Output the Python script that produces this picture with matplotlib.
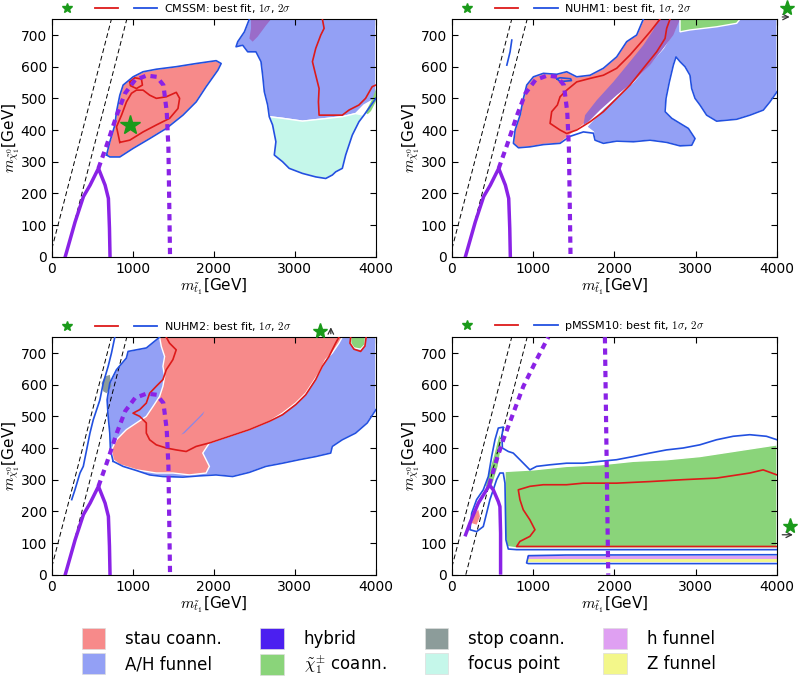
import matplotlib
matplotlib.use("Agg")
import matplotlib.pyplot as plt
from matplotlib.patches import Patch
from matplotlib.lines import Line2D

plt.rcParams['mathtext.fontset'] = 'cm'
plt.rcParams['font.family'] = ['DejaVu Sans']

# colours of the regions
col_stau = '#f78a8a'
col_ah = '#93a0f5'
col_hybrid = '#4b1ff0'
col_chi = '#8ad47a'
col_stop = '#8c9c9a'
col_focus = '#c5f7ea'
col_hfun = '#dfa0f2'
col_zfun = '#f3f78a'
col_mix = '#9a6cc9'
red = '#dd1a1a'
blue = '#2250e0'
purple = '#8a22e6'

models = ['CMSSM', 'NUHM1', 'NUHM2', 'pMSSM10']

# kinematic boundary lines (m_stop vs m_chi)
diag1_x = [0, 735]
diag1_y = [25, 750]
diag2_x = [170, 925]
diag2_y = [0, 750]

# LHC exclusion curves (CMSSM/NUHM1/NUHM2)
excl_x = [165, 287, 390, 472, 575, 657, 698, 711, 718]
excl_y = [0, 110, 190, 226, 279, 226, 184, 90, 0]
proj_x = [575, 678, 801, 904, 1027, 1171, 1295, 1377, 1418, 1439, 1459]
proj_y = [279, 353, 447, 516, 558, 572, 568, 542, 458, 342, 0]

# pMSSM10 exclusion curves
p10_excl_x = [160, 221, 324, 426, 459, 508, 570, 590, 598, 598]
p10_excl_y = [121, 163, 226, 268, 284, 268, 231, 215, 131, 0]
p10_proj1_x = [459, 549, 631, 754, 877, 1041, 1185]
p10_proj1_y = [284, 363, 426, 510, 594, 679, 750]
p10_proj2_x = [1882, 1923]
p10_proj2_y = [750, 0]

# ---------------- CMSSM ----------------
cm_stau_x = [675, 716, 778, 798, 839, 880, 1003, 1126, 1290, 1536, 1782, 2028, 2090, 2049, 1905, 1782, 1618, 1413, 1208, 1003, 839, 716]
cm_stau_y = [321, 363, 416, 458, 510, 542, 568, 584, 592, 600, 610, 619, 610, 589, 537, 489, 447, 405, 373, 342, 315, 315]
cm_red_x = [839, 798, 860, 921, 983, 1044, 1126, 1208, 1290, 1413, 1536, 1577, 1557, 1454, 1290, 1126, 962, 839]
cm_red_y = [361, 410, 447, 489, 516, 526, 526, 510, 500, 505, 519, 500, 468, 437, 416, 394, 368, 361]
cm_red2_x = [962, 1024, 1106, 1118, 1044, 970, 962]
cm_red2_y = [552, 565, 561, 542, 531, 540, 552]
cm_ah_x = [2438, 2377, 2295, 2274, 2356, 2418, 2520, 2582, 2602, 2623, 2664, 2684, 2848, 3094, 3340, 3586, 3750, 3853, 4000, 4000]
cm_ah_y = [750, 710, 679, 663, 668, 647, 647, 616, 574, 521, 479, 442, 437, 428, 435, 442, 452, 479, 500, 750]
cm_mix_x = [2459, 2706, 2645, 2602, 2541, 2479, 2438, 2459]
cm_mix_y = [750, 750, 731, 716, 695, 679, 689, 721]
cm_focus_x = [2684, 2725, 2766, 2746, 2848, 2930, 3094, 3258, 3381, 3463, 3504, 3586, 3627, 3709, 3791, 3853, 3750, 3586, 3340, 3094, 2848]
cm_focus_y = [442, 416, 363, 321, 300, 279, 263, 252, 247, 258, 268, 279, 321, 384, 426, 447, 452, 442, 435, 428, 437]
cm_chi_x = [3870, 3960, 4000, 4000, 3940, 3900]
cm_chi_y = [455, 500, 530, 490, 460, 450]
cm_red3_x = [3340, 3361, 3320, 3258, 3217, 3258, 3299, 3291, 3299, 3463, 3586, 3668, 3791, 3873, 3955, 4000]
cm_red3_y = [750, 721, 700, 658, 616, 573, 531, 489, 447, 447, 447, 463, 479, 500, 537, 542]
cm_blue2_x = [2438, 2377, 2295, 2274, 2356, 2418, 2520, 2582, 2602, 2623, 2664, 2684, 2725, 2766, 2746, 2848, 2930, 3094, 3258, 3381, 3463, 3504, 3586, 3627, 3709, 3791, 3853, 4000]
cm_blue2_y = [750, 710, 679, 663, 668, 647, 647, 616, 574, 521, 479, 442, 416, 363, 321, 300, 279, 263, 252, 247, 258, 268, 279, 321, 384, 426, 447, 500]
cm_best = (962, 416)

# ---------------- NUHM1 ----------------
n1_stau_x = [2355, 2273, 2150, 2027, 1863, 1699, 1535, 1412, 1289, 1125, 1002, 920, 879, 838, 777, 756, 818, 961, 1125, 1330, 1453, 1617, 1740, 1904, 2109, 2273, 2437, 2601, 2642]
n1_stau_y = [750, 700, 679, 631, 595, 573, 568, 584, 576, 579, 568, 542, 500, 447, 400, 358, 344, 347, 354, 358, 384, 416, 458, 510, 573, 626, 679, 731, 750]
n1_mix_x = [2540, 2806, 2724, 2601, 2437, 2232, 2027, 1822, 1679, 1617, 1638, 1781, 1986, 2191, 2355, 2478]
n1_mix_y = [750, 750, 700, 658, 605, 552, 510, 463, 426, 416, 447, 494, 552, 616, 668, 716]
n1_ah_x = [2765, 4000, 4000, 3913, 3831, 3667, 3503, 3257, 3134, 3052, 2991, 2950, 2929, 2868, 2806, 2757, 2724, 2675, 2634, 2622, 2704, 2806, 2909, 2991, 2950, 2806, 2642, 2437, 2232, 2027, 1863, 1760, 1740, 1658, 1863, 2232, 2601, 2745]
n1_ah_y = [750, 750, 521, 489, 463, 447, 434, 428, 447, 479, 500, 531, 573, 600, 616, 631, 605, 552, 500, 458, 437, 421, 405, 373, 352, 350, 361, 368, 363, 365, 358, 368, 394, 410, 468, 552, 658, 721]
n1_chi_x = [2806, 3544, 3503, 3257, 3093, 2929, 2806]
n1_chi_y = [750, 750, 737, 726, 721, 716, 710]
n1_red_x = [2560, 2437, 2314, 2191, 2027, 1863, 1699, 1535, 1412, 1330, 1297, 1227, 1207, 1330, 1412, 1535, 1699, 1863, 2027, 2191, 2355, 2519, 2622, 2642, 2683]
n1_red_y = [750, 710, 673, 637, 595, 573, 563, 552, 526, 505, 479, 458, 421, 400, 389, 400, 426, 458, 500, 542, 595, 647, 689, 721, 750]
n1_blue_x = [2355, 2273, 2150, 2027, 1863, 1699, 1535, 1412, 1289, 1125, 1002, 920, 879, 838, 777, 756, 818, 961, 1125, 1330, 1453, 1617, 1740, 1760, 1863, 2027, 2232, 2437, 2642, 2806, 2950, 2991, 2909, 2806, 2704, 2622, 2634, 2675, 2724, 2757, 2806, 2868, 2929, 2950, 2991, 3052, 3134, 3257, 3503, 3667, 3831, 3913, 4000]
n1_blue_y = [750, 700, 679, 631, 595, 573, 568, 584, 576, 579, 568, 542, 500, 447, 400, 358, 344, 347, 354, 358, 380, 394, 390, 368, 358, 365, 363, 368, 361, 350, 352, 373, 405, 421, 437, 458, 500, 552, 605, 631, 616, 600, 573, 531, 500, 479, 447, 428, 434, 447, 463, 489, 521]
n1_blue2_x = [736, 715, 695, 675]
n1_blue2_y = [684, 647, 626, 605]
n1_blue3_x = [1290, 1330, 1460, 1470, 1330, 1290]
n1_blue3_y = [562, 565, 562, 556, 553, 562]

# ---------------- NUHM2 ----------------
n2_ah_x = [941, 1167, 1330, 3585, 4000, 4000, 3893, 3749, 3585, 3462, 3442, 3257, 3052, 2847, 2642, 2437, 2232, 2027, 1822, 1617, 1371, 1207, 1043, 879, 756, 723, 715, 695, 682, 715, 797, 920]
n2_ah_y = [705, 716, 750, 750, 750, 521, 479, 447, 426, 405, 384, 373, 363, 352, 342, 323, 310, 315, 312, 308, 310, 315, 329, 342, 358, 394, 447, 500, 552, 605, 647, 684]
n2_stau_x = [1330, 3585, 3544, 3462, 3380, 3298, 3216, 3134, 3011, 2847, 2683, 2437, 2191, 1945, 1863, 1945, 1904, 1699, 1494, 1289, 1043, 838, 756, 736, 797, 920, 1043, 1166, 1248, 1330, 1371, 1392, 1371, 1392, 1351]
n2_stau_y = [750, 750, 731, 700, 679, 637, 605, 573, 542, 510, 484, 458, 437, 416, 384, 342, 321, 315, 321, 321, 331, 347, 363, 394, 426, 458, 479, 500, 531, 563, 595, 626, 658, 689, 721]
n2_chi_x = [3689, 3873, 3865, 3812, 3730, 3689]
n2_chi_y = [750, 750, 726, 712, 716, 731]
n2_mix_x = [1597, 1658, 1781, 1884, 1863, 1740, 1638]
n2_mix_y = [442, 458, 489, 516, 505, 473, 447]
n2_stop_x = [614, 655, 716, 736, 675, 634]
n2_stop_y = [605, 626, 631, 595, 573, 579]
n2_red_x = [1412, 1453, 1535, 1494, 1412, 1371, 1289, 1207, 1166, 1084, 1002, 1084, 1166, 1166, 1207, 1289, 1412, 1535, 1658, 1781, 1945, 2191, 2437, 2683, 2847, 3011, 3134, 3257, 3339, 3421, 3503, 3544]
n2_red_y = [750, 731, 710, 679, 647, 616, 595, 573, 542, 521, 510, 500, 479, 447, 426, 410, 400, 394, 389, 405, 416, 437, 458, 484, 505, 537, 568, 616, 658, 689, 731, 750]
n2_red2_x = [3689, 3680, 3730, 3812, 3865, 3880]
n2_red2_y = [750, 731, 712, 705, 722, 750]
n2_blue_out_x = [756, 879, 1043, 1207, 1371, 1617, 1822, 2027, 2232, 2437, 2642, 2847, 3052, 3257, 3442, 3462, 3585, 3749, 3893, 4000]
n2_blue_out_y = [358, 342, 329, 315, 310, 308, 312, 315, 310, 323, 342, 352, 363, 373, 384, 405, 426, 447, 479, 521]
n2_blue_left_x = [245, 285, 347, 388, 429, 470, 511, 593, 634, 695, 736, 777]
n2_blue_left_y = [237, 268, 321, 342, 394, 447, 489, 552, 605, 658, 700, 750]
n2_blue_top_x = [756, 723, 715, 695, 682, 715, 797, 920, 941, 1167, 1330]
n2_blue_top_y = [358, 394, 447, 500, 552, 605, 647, 684, 705, 716, 750]

# ---------------- pMSSM10 ----------------
p10_chi_x = [652, 1000, 1410, 1820, 2230, 2640, 3050, 3460, 3870, 4000, 4000, 795, 672, 652]
p10_chi_y = [326, 331, 342, 347, 358, 363, 373, 389, 405, 410, 84, 84, 89, 131]
p10_chi2_x = [406, 447, 508, 570, 599, 611, 570, 508, 467]
p10_chi2_y = [279, 321, 373, 437, 447, 405, 342, 289, 268]
p10_stau_x = [242, 283, 324, 344, 303]
p10_stau_y = [163, 195, 205, 184, 158]
p10_hfun_x = [920, 4000, 4000, 920]
p10_hfun_y = [50, 50, 59, 59]
p10_zfun_x = [920, 4000, 4000, 920]
p10_zfun_y = [40, 40, 50, 50]
p10_blue_x = [4000, 3870, 3665, 3460, 3255, 3050, 2845, 2640, 2435, 2230, 2025, 1820, 1615, 1410, 1205, 1041, 959, 836, 754, 693, 620, 615, 631, 570, 529, 488, 447, 385, 303, 242, 221, 303, 385, 426, 467, 508, 549, 590, 631, 652, 664, 693, 795, 4000]
p10_blue_y = [426, 437, 442, 437, 426, 410, 400, 394, 384, 373, 363, 358, 352, 352, 347, 342, 331, 363, 384, 389, 400, 440, 466, 463, 426, 373, 310, 268, 237, 194, 142, 136, 152, 194, 237, 268, 300, 321, 321, 289, 110, 81, 79, 79]
p10_blue2_x = [4000, 1400, 940, 918, 940, 4000]
p10_blue2_y = [63, 62, 60, 37, 35, 35]
p10_red_x = [4000, 3829, 3665, 3255, 2845, 2435, 2025, 1615, 1410, 1123, 959, 816, 836, 877, 959, 1021, 959, 836, 795, 4000]
p10_red_y = [315, 331, 321, 305, 300, 294, 289, 289, 284, 284, 279, 268, 237, 205, 173, 142, 121, 105, 89, 89]

fig = plt.figure(figsize=(7.98, 6.78), dpi=100)
ax_pos = [[0.065, 0.6214, 0.406, 0.3503], [0.5664, 0.6214, 0.4073, 0.3503],
          [0.065, 0.1524, 0.406, 0.3503], [0.5664, 0.1524, 0.4073, 0.3503]]
axes = [fig.add_axes(p) for p in ax_pos]


def region(ax, x, y, c, z=1, edge='white'):
    ax.fill(x, y, color=c, ec=edge, lw=1.0, zorder=z)


def common(ax, name, p10=False):
    ax.set_xlim(0, 4000)
    ax.set_ylim(0, 750)
    ax.set_xticks([0, 1000, 2000, 3000, 4000])
    ax.set_yticks([0, 100, 200, 300, 400, 500, 600, 700])
    ax.tick_params(direction='in', top=True, right=True, labelsize=10, length=4)
    ax.set_xlabel(r'$m_{\tilde{t}_1}$[GeV]', fontsize=11, labelpad=1)
    ax.set_ylabel(r'$m_{\tilde{\chi}^0_1}$[GeV]', fontsize=11, labelpad=-1)
    l1, = ax.plot(diag1_x, diag1_y, color='k', lw=0.7, zorder=2)
    l1.set_dashes((5, 3))
    l2, = ax.plot(diag2_x, diag2_y, color='k', lw=0.7, zorder=2)
    l2.set_dashes((5, 3))
    if p10:
        ax.plot(p10_excl_x, p10_excl_y, color=purple, lw=2.5, zorder=5, solid_capstyle='butt')
        for xx, yy in [(p10_proj1_x, p10_proj1_y), (p10_proj2_x, p10_proj2_y)]:
            d, = ax.plot(xx, yy, color=purple, lw=3, zorder=5)
            d.set_dashes((1.5, 1.2))
    else:
        ax.plot(excl_x, excl_y, color=purple, lw=2.5, zorder=5)
        d, = ax.plot(proj_x, proj_y, color=purple, lw=3, zorder=5)
        d.set_dashes((1.5, 1.2))
    hands = [Line2D([], [], ls='none', marker='*', color='#1a9a1a', ms=7),
             Line2D([], [], color=red, lw=1.3),
             Line2D([], [], color=blue, lw=1.3)]
    ax.legend(hands, ['', '', name + r': best fit, $1\sigma$, $2\sigma$'], ncol=3,
              frameon=False, loc='lower left', bbox_to_anchor=(0.0, 1.005),
              fontsize=8, handlelength=2.1, handletextpad=0.55, columnspacing=0.9,
              borderpad=0.3, borderaxespad=0.0)


# CMSSM
ax = axes[0]
region(ax, cm_stau_x, cm_stau_y, col_stau)
region(ax, cm_ah_x, cm_ah_y, col_ah)
region(ax, cm_mix_x, cm_mix_y, col_mix, z=1.5, edge='none')
region(ax, cm_focus_x, cm_focus_y, col_focus)
region(ax, cm_chi_x, cm_chi_y, col_chi, z=1.5, edge='none')
ax.plot(cm_stau_x + cm_stau_x[:1], cm_stau_y + cm_stau_y[:1], color=blue, lw=1.2, zorder=3)
ax.plot(cm_blue2_x, cm_blue2_y, color=blue, lw=1.2, zorder=3)
ax.plot(cm_red_x, cm_red_y, color=red, lw=1.2, zorder=3)
ax.plot(cm_red2_x, cm_red2_y, color=red, lw=1.2, zorder=3)
ax.plot(cm_red3_x, cm_red3_y, color=red, lw=1.2, zorder=3)
ax.plot(*cm_best, ls='none', marker='*', color='#1a9a1a', ms=15, zorder=6)
common(ax, models[0])

# NUHM1
ax = axes[1]
region(ax, n1_ah_x, n1_ah_y, col_ah)
region(ax, n1_stau_x, n1_stau_y, col_stau)
region(ax, n1_mix_x, n1_mix_y, col_mix, z=1.5, edge='none')
region(ax, n1_chi_x, n1_chi_y, col_chi, z=1.5)
ax.plot(n1_blue_x, n1_blue_y, color=blue, lw=1.2, zorder=3)
ax.plot(n1_blue2_x, n1_blue2_y, color=blue, lw=1.2, zorder=3)
ax.plot(n1_blue3_x, n1_blue3_y, color=blue, lw=1.2, zorder=3)
ax.plot(n1_red_x, n1_red_y, color=red, lw=1.2, zorder=3)
ax.plot(4119, 784, ls='none', marker='*', color='#1a9a1a', ms=11, zorder=6, clip_on=False)
ax.annotate('', xy=(4190, 757), xytext=(4030, 757), annotation_clip=False,
            arrowprops=dict(arrowstyle='->', color='#333333', lw=0.9))
common(ax, models[1])

# NUHM2
ax = axes[2]
region(ax, n2_ah_x, n2_ah_y, col_ah)
region(ax, n2_stau_x, n2_stau_y, col_stau)
region(ax, n2_chi_x, n2_chi_y, col_chi, z=1.5)
region(ax, n2_mix_x, n2_mix_y, '#8a86e6', z=1.5, edge='none')
region(ax, n2_stop_x, n2_stop_y, col_stop, z=1.5, edge='none')
ax.plot(n2_blue_out_x, n2_blue_out_y, color=blue, lw=1.2, zorder=3)
ax.plot(n2_blue_left_x, n2_blue_left_y, color=blue, lw=1.2, zorder=3)
ax.plot(n2_blue_top_x, n2_blue_top_y, color=blue, lw=1.2, zorder=3)
ax.plot(n2_red_x, n2_red_y, color=red, lw=1.2, zorder=3)
ax.plot(n2_red2_x, n2_red2_y, color=red, lw=1.2, zorder=3)
ax.plot(3308, 770, ls='none', marker='*', color='#1a9a1a', ms=11, zorder=6, clip_on=False)
ax.annotate('', xy=(3444, 790), xytext=(3444, 752), annotation_clip=False,
            arrowprops=dict(arrowstyle='->', color='#333333', lw=0.9))
common(ax, models[2])

# pMSSM10
ax = axes[3]
region(ax, p10_chi_x, p10_chi_y, col_chi)
region(ax, p10_chi2_x, p10_chi2_y, col_chi)
region(ax, p10_stau_x, p10_stau_y, col_stau, z=1.5, edge='none')
region(ax, p10_hfun_x, p10_hfun_y, col_hfun, z=1.5, edge='none')
region(ax, p10_zfun_x, p10_zfun_y, col_zfun, z=1.5, edge='none')
ax.plot(p10_blue_x, p10_blue_y, color=blue, lw=1.2, zorder=3)
ax.plot(p10_blue2_x, p10_blue2_y, color=blue, lw=1.2, zorder=3)
ax.plot(p10_red_x, p10_red_y, color=red, lw=1.2, zorder=3)
ax.plot(4160, 153, ls='none', marker='*', color='#1a9a1a', ms=11, zorder=6, clip_on=False)
ax.annotate('', xy=(4230, 126), xytext=(4030, 126), annotation_clip=False,
            arrowprops=dict(arrowstyle='->', color='#333333', lw=0.9))
common(ax, models[3], p10=True)

# region legend
leg_labels = ['stau coann.', 'A/H funnel', 'hybrid', r'$\tilde{\chi}^{\pm}_1$ coann.',
              'stop coann.', 'focus point', 'h funnel', 'Z funnel']
leg_cols = [col_stau, col_ah, col_hybrid, col_chi, col_stop, col_focus, col_hfun, col_zfun]
handles = [Patch(facecolor=c, edgecolor='#dddddd', lw=0.5) for c in leg_cols]
fig.legend(handles, leg_labels, ncol=4, loc='upper left', bbox_to_anchor=(0.084, 0.0955),
           frameon=False, fontsize=12, handlelength=1.4, handleheight=1.55,
           handletextpad=1.2, columnspacing=2.3, labelspacing=0.25, borderpad=0.4)

fig.savefig('out.png', dpi=100)
